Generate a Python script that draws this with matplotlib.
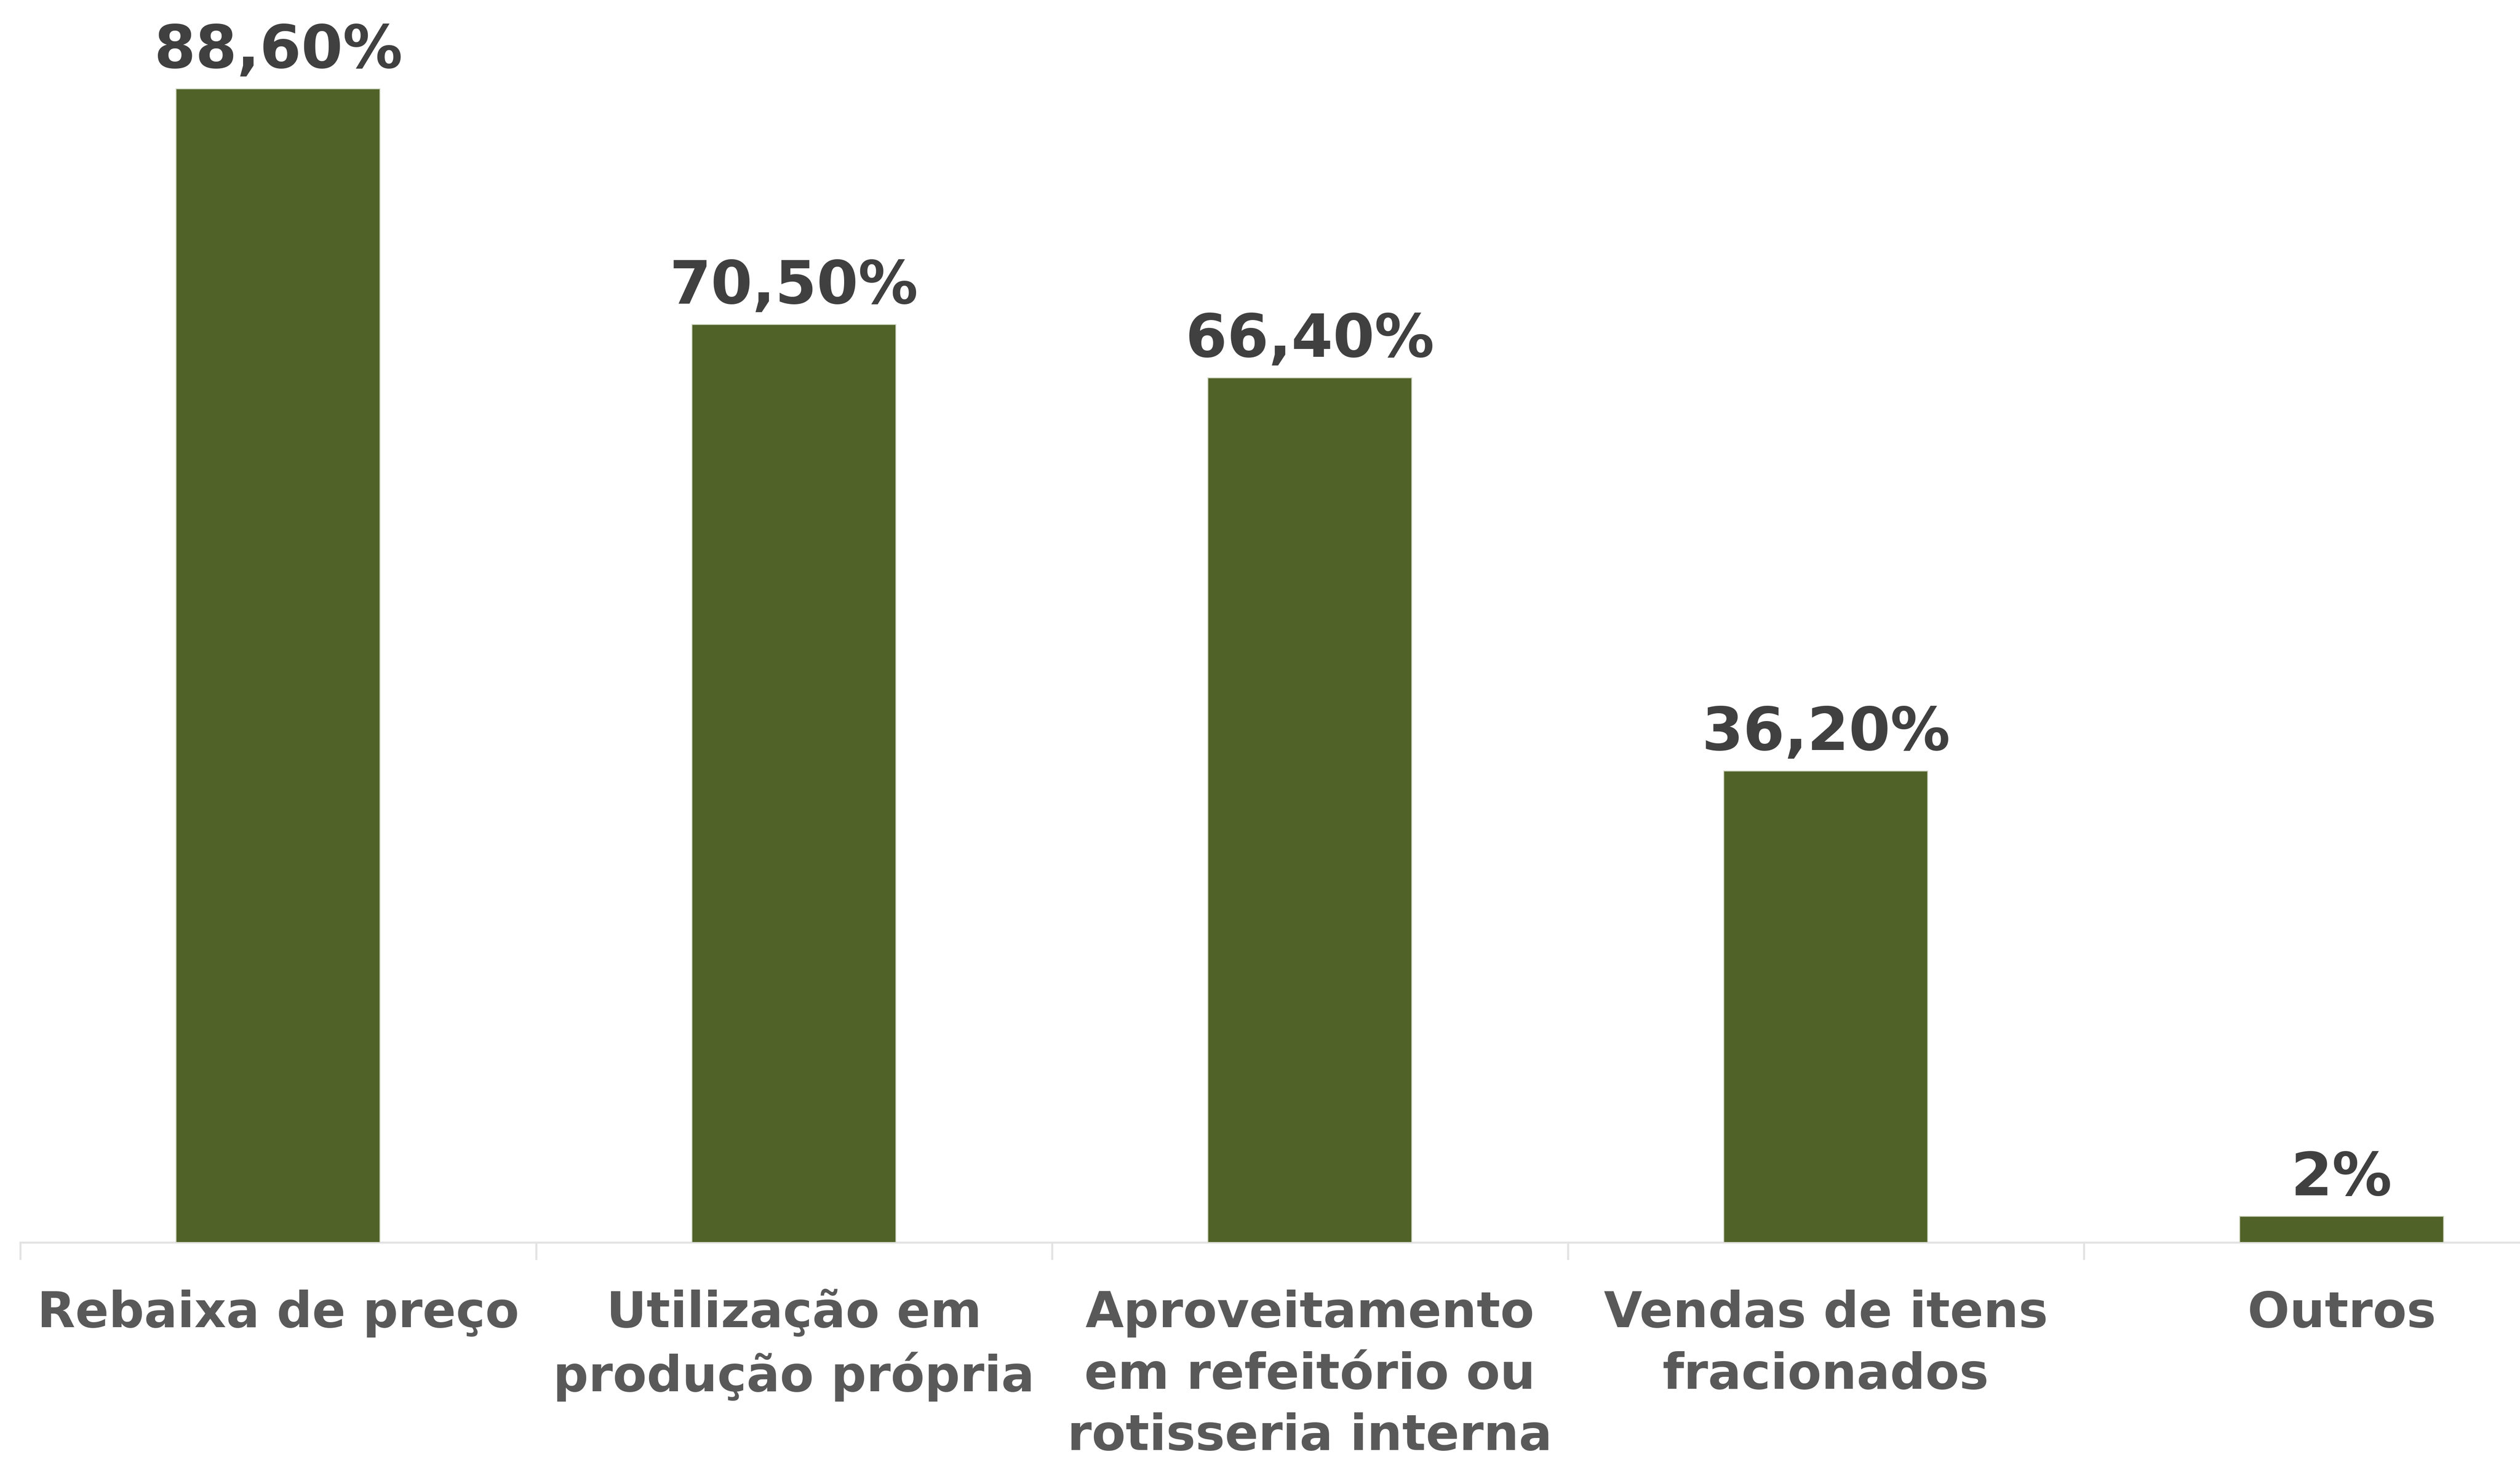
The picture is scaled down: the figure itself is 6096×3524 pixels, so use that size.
import matplotlib
matplotlib.use("Agg")
import matplotlib.pyplot as plt
import numpy as np

categories = ["Rebaixa de preço", "Utilização em\nprodução própria",
              "Aproveitamento\nem refeitório ou\nrotisseria interna",
              "Vendas de itens\nfracionados", "Outros"]
values = [88.6, 70.5, 66.4, 36.2, 2.0]
value_labels = ["88,60%", "70,50%", "66,40%", "36,20%", "2%"]

W, H, DPI = 6096, 3524, 100
fig = plt.figure(figsize=(W / DPI, H / DPI), dpi=DPI)
fig.patch.set_facecolor("white")

ax = fig.add_axes([0.008, 0.1473, 1.0236, 0.849])
x = np.arange(len(categories))
bars = ax.bar(x, values, width=0.395, color="#506228",
              edgecolor="#C8CFB8", linewidth=1.5, zorder=2)

ax.set_xlim(-0.5, 4.5)
ax.set_ylim(0, 95)

for b, lab in zip(bars, value_labels):
    ax.annotate(lab, (b.get_x() + b.get_width() / 2, b.get_height()),
                xytext=(0, 15), textcoords="offset points",
                ha="center", va="bottom", fontsize=104, fontweight="bold",
                color="#404040", family="DejaVu Sans")

for s in ["top", "left", "right"]:
    ax.spines[s].set_visible(False)
ax.spines["bottom"].set_color("#E3E3E3")
ax.spines["bottom"].set_linewidth(3.5)
ax.spines["bottom"].set_zorder(1)

ax.set_yticks([])
ax.set_xticks(x)
ax.set_xticklabels(categories, fontsize=86, fontweight="bold", color="#595959",
                   linespacing=1.36, family="DejaVu Sans")
ax.tick_params(axis="x", which="major", length=0, pad=82)
ax.set_xticks(np.arange(-0.5, 5.0, 1.0), minor=True)
ax.tick_params(axis="x", which="minor", length=30, width=3.5, color="#E3E3E3")

fig.savefig("out.png", dpi=DPI, facecolor="white")
